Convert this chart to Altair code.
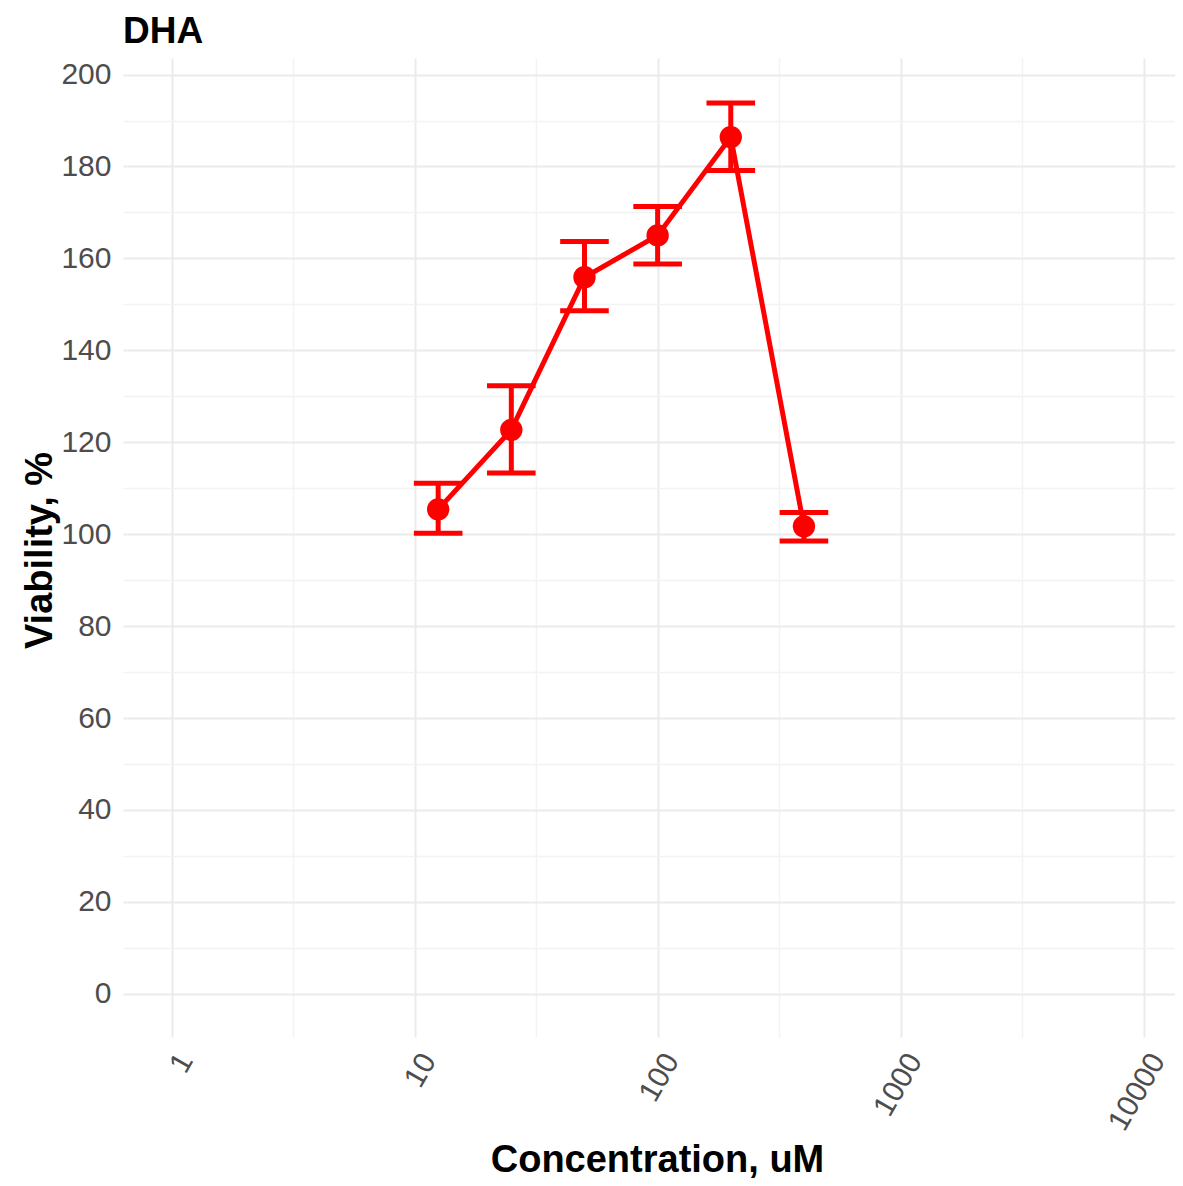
import altair as alt
import pandas as pd

# ---- data ----
conc = [12.5, 25, 50, 100, 200, 400]
viability = [105.4, 122.7, 155.9, 165.0, 186.4, 101.7]
upper = [111.1, 132.3, 163.7, 171.3, 193.8, 104.7]
lower = [100.2, 113.3, 148.6, 158.8, 179.1, 98.5]

x_major = [1, 10, 100, 1000, 10000]
x_minor = [3.1623, 31.623, 316.23, 3162.3]
y_ticks = list(range(0, 201, 10))
y_major_step = 20

df = pd.DataFrame({"conc": conc, "viability": viability, "upper": upper, "lower": lower})

FONT = "Liberation Sans"
RED = "#FF0000"
MAJOR_GRID = "#EBEBEB"
MINOR_GRID = "#F3F3F3"

x_major_test = "indexof([" + ",".join(str(v) for v in x_major) + "], datum.value) >= 0"
y_major_test = f"datum.value % {y_major_step} === 0"

x_scale = alt.Scale(type="log", domain=[10 ** -0.2, 10 ** 4.129], nice=False)
y_scale = alt.Scale(domain=[-9.4, 203.6], nice=False, zero=False)

x_axis = alt.Axis(
    values=sorted(x_major + x_minor),
    labelExpr=f"{x_major_test} ? format(datum.value, 'd') : ''",
    labelAngle=-60, labelAlign="right", labelBaseline="top",
    labelOffset=1, labelPadding=11, labelOverlap=False, labelBound=False,
    labelFont=FONT, labelFontSize=30, labelColor="#4D4D4D",
    ticks=False, tickSize=0, domain=False, grid=True,
    gridColor={"condition": {"test": x_major_test, "value": MAJOR_GRID}, "value": MINOR_GRID},
    gridWidth={"condition": {"test": x_major_test, "value": 2}, "value": 1.5},
    title="Concentration, uM", titleFont=FONT, titleFontSize=38, titleFontWeight="bold",
    titleColor="#000000", titleX=534, titleY=134, titleAlign="center",
    titleBaseline="alphabetic",
)

y_axis = alt.Axis(
    values=y_ticks,
    labelExpr=f"{y_major_test} ? datum.label : ''",
    labelPadding=12, labelOverlap=False, labelBound=False,
    labelFont=FONT, labelFontSize=30, labelColor="#4D4D4D",
    ticks=False, tickSize=0, domain=False, grid=True,
    gridColor={"condition": {"test": y_major_test, "value": MAJOR_GRID}, "value": MINOR_GRID},
    gridWidth={"condition": {"test": y_major_test, "value": 2}, "value": 1.5},
    title="Viability, %", titleFont=FONT, titleFontSize=38, titleFontWeight="bold",
    titleColor="#000000", titleX=-72, titleY=492, titleAngle=-90, titleAlign="center",
    titleBaseline="alphabetic",
)

base = alt.Chart(df)

line = base.mark_line(color=RED, strokeWidth=5).encode(
    x=alt.X("conc:Q", scale=x_scale, axis=x_axis),
    y=alt.Y("viability:Q", scale=y_scale, axis=y_axis),
)

err = base.mark_rule(color=RED, strokeWidth=5).encode(
    x="conc:Q", y="lower:Q", y2="upper:Q"
)

caps = base.transform_calculate(
    cap_l="datum.conc / pow(10, 0.1)", cap_r="datum.conc * pow(10, 0.1)"
)
cap_top = caps.mark_rule(color=RED, strokeWidth=5).encode(
    x="cap_l:Q", x2="cap_r:Q", y="upper:Q"
)
cap_bot = caps.mark_rule(color=RED, strokeWidth=5).encode(
    x="cap_l:Q", x2="cap_r:Q", y="lower:Q"
)

points = base.mark_point(filled=True, color=RED, opacity=1, size=500, shape="circle").encode(
    x="conc:Q", y="viability:Q"
)

chart = alt.layer(line, err, cap_top, cap_bot, points).properties(
    width=1052,
    height=979,
    autosize=alt.AutoSizeParams(type="none"),
    padding={"left": 115, "top": 50, "right": 0, "bottom": 141},
    title=alt.TitleParams(
        "DHA", anchor="start", frame="group", font=FONT, fontSize=37,
        fontWeight="bold", color="#000000", baseline="alphabetic", offset=16, dy=38,
    ),
    background="white",
).configure_view(stroke=None)

chart.save("out.html", embed_options={"renderer": "svg", "actions": False})
